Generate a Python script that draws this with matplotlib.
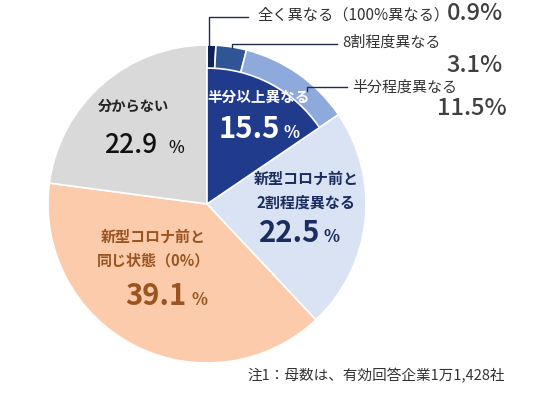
import matplotlib.pyplot as plt
from matplotlib.lines import Line2D

plt.rcParams['font.family'] = ['Noto Sans CJK JP', 'DejaVu Sans']

# data (%), clockwise from 12 o'clock
ring_labels = ['全く異なる（100%異なる）', '8割程度異なる', '半分程度異なる']
ring_values = [0.9, 3.1, 11.5]
main_labels = ['半分以上異なる', '新型コロナ前と\n2割程度異なる', '新型コロナ前と\n同じ状態（0%）', '分からない']
main_values = [15.5, 22.5, 39.1, 22.9]
note = '注1：母数は、有効回答企業1万1,428社'

ring_colors = ['#0e2257', '#2f5597', '#8eaadc']
main_colors = ['#213b8c', '#dae3f3', '#fbcbab', '#d9d9d9']

W, H = 534, 397
fig = plt.figure(figsize=(W / 100, H / 100), dpi=100)

cx, cy, R = 207, 204, 159


def P(x, y):
    return x / W, 1 - y / H


ax = fig.add_axes([(cx - R) / W, 1 - (cy + R) / H, 2 * R / W, 2 * R / H])
outer_vals = ring_values + main_values[1:]
outer_cols = ring_colors + main_colors[1:]
ax.pie(outer_vals, colors=outer_cols, startangle=90, counterclock=False, radius=1,
       wedgeprops=dict(edgecolor='white', linewidth=1.2))
inner, _ = ax.pie([main_values[0], 100 - main_values[0]], colors=[main_colors[0], 'none'],
                  startangle=90, counterclock=False, radius=0.855,
                  wedgeprops=dict(edgecolor='white', linewidth=1.2))
inner[1].set_edgecolor('none')
ax.set_xlim(-1, 1)
ax.set_ylim(-1, 1)
ax.set_aspect('equal')
ax.axis('off')

line_col = '#1f2d50'


def leader(pts):
    xs = [P(x, y)[0] for x, y in pts]
    ys = [P(x, y)[1] for x, y in pts]
    fig.add_artist(Line2D(xs, ys, color=line_col, lw=1.0, transform=fig.transFigure))


leader([(209, 45), (209, 17), (248, 17)])
leader([(232, 48), (232, 44), (337, 44)])
leader([(307, 91), (307, 87), (347, 87)])

# ring labels
txt = '#333333'
num = '#404040'
fig.text(*P(257, 15), ring_labels[0], fontsize=11, color=txt, ha='left', va='center')
fig.text(*P(503, 14), f'{ring_values[0]}%', fontsize=17, color=num, fontweight='medium',
         ha='right', va='center')
fig.text(*P(342, 43), ring_labels[1], fontsize=10.8, color=txt, ha='left', va='center')
fig.text(*P(503, 65), f'{ring_values[1]}%', fontsize=17, color=num, fontweight='medium',
         ha='right', va='center')
fig.text(*P(352, 88), ring_labels[2], fontsize=10.8, color=txt, ha='left', va='center')
fig.text(*P(507, 108), f'{ring_values[2]}%', fontsize=17, color=num, fontweight='medium',
         ha='right', va='center')


def big(xr, yb, value, color, size=21, psize=12, gap=4, weight='bold'):
    fig.text(*P(xr, yb), f'{value}', fontsize=size, color=color, fontweight=weight,
             ha='right', va='baseline')
    fig.text(*P(xr + gap, yb), '%', fontsize=psize, color=color, fontweight=weight,
             ha='left', va='baseline')


# 半分以上異なる
fig.text(*P(259, 97), main_labels[0], fontsize=10.5, color='white', fontweight='bold',
         ha='center', va='center')
big(280, 138, main_values[0], 'white')

# 2割程度異なる
navy = '#1a2d5e'
fig.text(*P(306, 191), main_labels[1], fontsize=10.8, color=navy, fontweight='bold',
         ha='center', va='center', linespacing=1.6)
big(320, 242, main_values[1], navy, gap=3)

# 同じ状態
brown = '#9a5420'
fig.text(*P(153, 249), main_labels[2], fontsize=10.8, color=brown, fontweight='bold',
         ha='center', va='center', linespacing=1.6)
big(186, 305, main_values[2], brown, gap=5)

# 分からない
fig.text(*P(134, 107), main_labels[3], fontsize=10.3, color='#222222', fontweight='bold',
         ha='center', va='center')
big(157, 153, main_values[3], '#111111', size=19, gap=11, weight='medium')

fig.text(*P(247, 376), note, fontsize=10.5, color='#333333', ha='left', va='center')

fig.savefig('out.png', dpi=100)
